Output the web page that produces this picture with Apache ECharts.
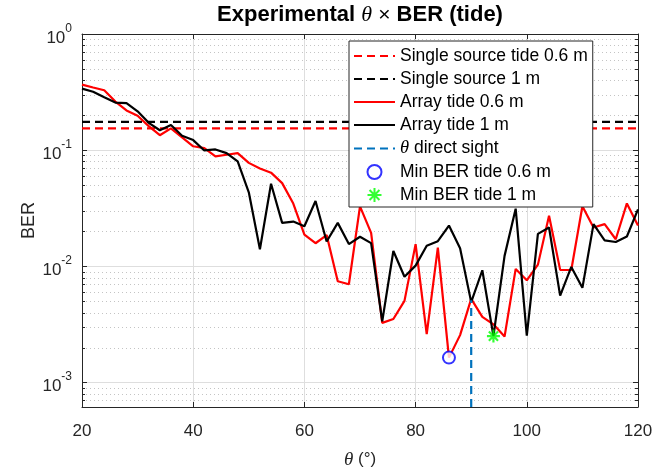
<!DOCTYPE html>
<html><head><meta charset="utf-8">
<script src="https://cdn.jsdelivr.net/npm/echarts@6/dist/echarts.min.js"></script>
<style>html,body{margin:0;padding:0;background:#fff}#c{width:667px;height:474px}</style>
</head><body><div id="c"></div>
<script>
// ---- data ----
const theta = [20,22,24,26,28,30,32,34,36,38,40,42,44,46,48,50,52,54,56,58,60,62,64,66,68,70,72,74,76,78,80,82,84,86,88,90,92,94,96,98,100,102,104,106,108,110,112,114,116,118,120];
const berArray06 = [0.367,0.346,0.328,0.262,0.220,0.198,0.161,0.1345,0.154,0.1287,0.108,0.104,0.0885,0.0913,0.0943,0.0777,0.0696,0.064,0.052,0.0347,0.0187,0.0158,0.0186,0.00743,0.00701,0.0328,0.0194,0.00326,0.00352,0.00504,0.01553,0.00261,0.01446,0.001637,0.002557,0.00524,0.003675,0.003167,0.002484,0.0095,0.00758,0.01034,0.02725,0.00932,0.0093,0.0329,0.0216,0.0231,0.0171,0.0348,0.02245];
const berArray1 = [0.339,0.318,0.285,0.257,0.254,0.216,0.172,0.1483,0.1646,0.133,0.1221,0.0994,0.1014,0.0943,0.080,0.0434,0.01402,0.0514,0.02366,0.02427,0.02215,0.0365,0.01637,0.02366,0.01553,0.01797,0.01584,0.003356,0.01356,0.00814,0.01014,0.01503,0.01646,0.02245,0.01429,0.00492,0.00925,0.002508,0.0123,0.03135,0.00253,0.01904,0.0216,0.0056,0.00988,0.00653,0.0231,0.01672,0.0162,0.01807,0.0309];
const berSingle06 = 0.154;
const berSingle1 = 0.1754;
const thetaDirect = 90;
const berDirect = 0.0051;
const xTicks = [20,40,60,80,100,120];
const yTickExponents = [-3,-2,-1,0];
const yMin = 6.15e-4, yMax = 1;

// ---- derived ----
const xMin = xTicks[0], xMax = xTicks[xTicks.length-1];
const pairs = (ys) => theta.map((t,i)=>[t, ys[i]]);
function argMin(a){let k=0;for(let i=1;i<a.length;i++) if(a[i]<a[k]) k=i;return k;}
const k06 = argMin(berArray06), k1 = argMin(berArray1);
const minorVals = [];
for (let e = yTickExponents[0]-1; e < yTickExponents[yTickExponents.length-1]; e++) {
  for (let m = 2; m <= 9; m++) { const v = m*Math.pow(10,e); if (v > yMin && v < yMax) minorVals.push(v); }
}
const axisColor = '#262626';
const FONT = 'Liberation Sans';
const hideSym = {opacity:0};

const chart = echarts.init(document.getElementById('c'), null, {renderer:'canvas'});
const star = 'path://M0,-10L0,10M-10,0L10,0M-7.07,-7.07L7.07,7.07M-7.07,7.07L7.07,-7.07';
chart.setOption({
  animation:false,
  backgroundColor:'#fff',
  title:{
    text:'Experimental {i|θ} {n|×} BER (tide)',
    left:360, textAlign:'center', top:0, padding:[4,0,3,0],
    textStyle:{fontFamily:FONT, fontWeight:'bold', fontSize:22, color:'#000',
      rich:{i:{fontFamily:'Liberation Serif', fontStyle:'italic', fontWeight:'normal', fontSize:22, color:'#000'},
            n:{fontFamily:FONT, fontWeight:'normal', fontSize:21, color:'#000'}}}
  },
  grid:{left:82, right:29, top:34, bottom:60, containLabel:false},
  legend:{
    orient:'vertical', left:349, top:41,
    padding:[6,5,3,4], itemWidth:41, itemHeight:14, itemGap:5,
    backgroundColor:'#fff', borderColor:axisColor, borderWidth:1, borderRadius:0,
    textStyle:{fontFamily:FONT, fontSize:17.5, color:'#000',
      rich:{i:{fontFamily:'Liberation Serif', fontStyle:'italic', fontSize:18.5, color:'#000'}}},
    formatter:(name)=>name.replace('θ','{i|θ}'),
    data:[
      {name:'Single source tide 0.6 m', itemStyle:hideSym},
      {name:'Single source 1 m', itemStyle:hideSym},
      {name:'Array tide 0.6 m', itemStyle:hideSym},
      {name:'Array tide 1 m', itemStyle:hideSym},
      {name:'θ direct sight', itemStyle:hideSym},
      {name:'Min BER tide 0.6 m'},
      {name:'Min BER tide 1 m'}
    ]
  },
  xAxis:[{
    type:'value', min:xMin, max:xMax, interval:20, position:'bottom',
    axisLine:{show:true, lineStyle:{color:axisColor, width:1}},
    axisTick:{show:true, inside:true, length:5, lineStyle:{color:axisColor}},
    axisLabel:{fontFamily:FONT, fontSize:17, color:axisColor, margin:16},
    splitLine:{show:true, lineStyle:{color:'#dedede', width:1}},
    name:'{i|θ} (°)', nameLocation:'middle', nameGap:43, nameMoveOverlap:false,
    nameTextStyle:{fontFamily:FONT, fontSize:17, color:axisColor,
      rich:{i:{fontFamily:'Liberation Serif', fontStyle:'italic', fontSize:19, color:axisColor}}}
  },{
    type:'value', min:xMin, max:xMax, interval:20, position:'top',
    axisLine:{show:true, lineStyle:{color:axisColor, width:1}},
    axisTick:{show:true, inside:true, length:5, lineStyle:{color:axisColor}},
    axisLabel:{show:false}, splitLine:{show:false}
  }],
  yAxis:[{
    type:'log', logBase:10, min:yMin, max:yMax, position:'left',
    axisLine:{show:true, lineStyle:{color:axisColor, width:1}},
    axisTick:{show:true, inside:true, length:5, lineStyle:{color:axisColor}},
    axisLabel:{
      margin:10, padding:[1,0,0,0],
      formatter:(v)=>{const e=Math.log10(v), r=Math.round(e); if(Math.abs(e-r)>1e-6) return ''; return '{b|10}{s|'+r+'}';},
      rich:{b:{fontFamily:FONT, fontSize:17, color:axisColor, padding:[7,0,0,0], verticalAlign:'bottom'},
            s:{fontFamily:FONT, fontSize:12, color:axisColor, verticalAlign:'top'}}
    },
    splitLine:{show:true, lineStyle:{color:'#dedede', width:1}},
    name:'BER', nameLocation:'middle', nameGap:44, nameMoveOverlap:false,
    nameTextStyle:{fontFamily:FONT, fontSize:18, color:axisColor}
  },{
    type:'log', logBase:10, min:yMin, max:yMax, position:'right',
    axisLine:{show:true, lineStyle:{color:axisColor, width:1}},
    axisTick:{show:true, inside:true, length:5, lineStyle:{color:axisColor}},
    axisLabel:{show:false}, splitLine:{show:false}
  }],
  series:[
    {
      type:'custom', name:'minor', silent:true, z:1, xAxisIndex:0, yAxisIndex:0,
      data: minorVals.map(v=>[xMin, v]),
      renderItem:(params, api)=>{
        const v = api.value(1);
        const p0 = api.coord([xMin, v]);
        const p1 = api.coord([xMax, v]);
        const y = Math.round(p0[1]) + 0.5;
        return {type:'group', children:[
          {type:'line', shape:{x1:p0[0], y1:y, x2:p1[0], y2:y}, style:{stroke:'#c4c4c4', lineWidth:1, lineDash:[1,3]}},
          {type:'line', shape:{x1:p0[0], y1:y, x2:p0[0]+3, y2:y}, style:{stroke:axisColor, lineWidth:1}},
          {type:'line', shape:{x1:p1[0], y1:y, x2:p1[0]-3, y2:y}, style:{stroke:axisColor, lineWidth:1}}
        ]};
      }
    },
    {type:'line', name:'Single source tide 0.6 m', data:[[xMin,berSingle06],[xMax,berSingle06]], symbol:'none', z:3,
      color:'#ff0000', lineStyle:{color:'#ff0000', width:2.2, type:[8,5]}},
    {type:'line', name:'Single source 1 m', data:[[xMin,berSingle1],[xMax,berSingle1]], symbol:'none', z:3,
      color:'#000000', lineStyle:{color:'#000000', width:2.2, type:[8,5]}},
    {type:'line', name:'Array tide 0.6 m', data:pairs(berArray06), symbol:'none', z:3,
      color:'#ff0000', lineStyle:{color:'#ff0000', width:2.2}},
    {type:'line', name:'Array tide 1 m', data:pairs(berArray1), symbol:'none', z:3,
      color:'#000000', lineStyle:{color:'#000000', width:2.2}},
    {type:'line', name:'θ direct sight', data:[[thetaDirect,yMin],[thetaDirect,berDirect]], symbol:'none', z:3,
      color:'#0072BD', lineStyle:{color:'#0072BD', width:2.2, type:[8,5]}},
    {type:'scatter', name:'Min BER tide 0.6 m', data:[[theta[k06], berArray06[k06]]], symbol:'emptyCircle', symbolSize:12, z:4,
      color:'#0000ff', itemStyle:{color:'#0000ff', borderColor:'#0000ff', borderWidth:2}},
    {type:'scatter', name:'Min BER tide 1 m', data:[[theta[k1], berArray1[k1]]], symbol:star, symbolSize:13, z:4,
      color:'#00ff00', itemStyle:{color:'#00ff00', borderColor:'#00ff00', borderWidth:2.2}}
  ]
});
</script></body></html>
